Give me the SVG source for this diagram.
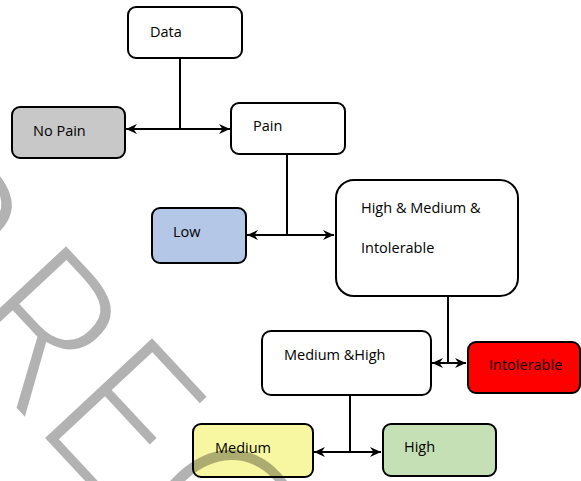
<svg xmlns="http://www.w3.org/2000/svg" width="581" height="481" viewBox="0 0 581 481">
<style>
.box{stroke:#000;stroke-width:2}
.lbl{font-family:"Open Sans","Liberation Sans",sans-serif;font-size:14.5px;fill:#000}
.ln{stroke:#000;stroke-width:2;fill:none}
.wm{font-family:"Open Sans","Liberation Sans",sans-serif;font-weight:350;font-size:205px;fill:#000;fill-opacity:0.3}
</style>
<defs>
<marker id="ah" markerUnits="userSpaceOnUse" markerWidth="12" markerHeight="10" refX="11" refY="5" orient="auto-start-reverse">
<path d="M0,0 L11,5 L0,10 L3.5,5 z" fill="#000"/>
</marker>
</defs>
<rect width="581" height="481" fill="#fff"/>
<g id="connectors">
<path class="ln" d="M180,58 V129"/>
<path class="ln" d="M126,129 H230" marker-start="url(#ah)" marker-end="url(#ah)"/>
<path class="ln" d="M287,154 V235"/>
<path class="ln" d="M247,235 H334" marker-start="url(#ah)" marker-end="url(#ah)"/>
<path class="ln" d="M448,296 V363"/>
<path class="ln" d="M432,363 H466" marker-start="url(#ah)" marker-end="url(#ah)"/>
<path class="ln" d="M350,395 V452"/>
<path class="ln" d="M314,452 H381" marker-start="url(#ah)" marker-end="url(#ah)"/>
</g>
<g id="data"><rect class="box" x="128" y="7" width="114" height="51" rx="8" fill="#fff"/><text class="lbl" x="150" y="37" font-size="16">Data</text></g>
<g id="nopain"><rect class="box" x="12" y="107" width="113" height="51" rx="8" fill="#c8c8c8"/><text class="lbl" x="33" y="136">No Pain</text></g>
<g id="pain"><rect class="box" x="231" y="103" width="114" height="51" rx="8" fill="#fff"/><text class="lbl" x="253" y="131">Pain</text></g>
<g id="low"><rect class="box" x="152" y="208" width="94" height="55" rx="8" fill="#b4c7e7"/><text class="lbl" x="173" y="237">Low</text></g>
<g id="hmi"><rect class="box" x="336" y="180" width="182" height="116" rx="18" fill="#fff"/><text class="lbl" x="361" y="213">High &amp; Medium &amp;</text><text class="lbl" x="361" y="253">Intolerable</text></g>
<g id="medhigh"><rect class="box" x="262" y="331" width="169" height="64" rx="9" fill="#fff"/><text class="lbl" x="284" y="360">Medium &amp;High</text></g>
<g id="intolerable"><rect class="box" x="468" y="342" width="112" height="51" rx="8" fill="#ff0000"/><text class="lbl" x="489" y="370">Intolerable</text></g>
<g id="medium"><rect class="box" x="193" y="424" width="120" height="53" rx="8" fill="#f7f7a1"/><text class="lbl" x="215" y="453">Medium</text></g>
<g id="high"><rect class="box" x="383" y="424" width="113" height="52" rx="8" fill="#c5e0b4"/><text class="lbl" x="404" y="452">High</text></g>
<text class="wm" transform="translate(-40,347) rotate(47)" x="-166 -22 104 228" y="0">PREC</text>
</svg>
